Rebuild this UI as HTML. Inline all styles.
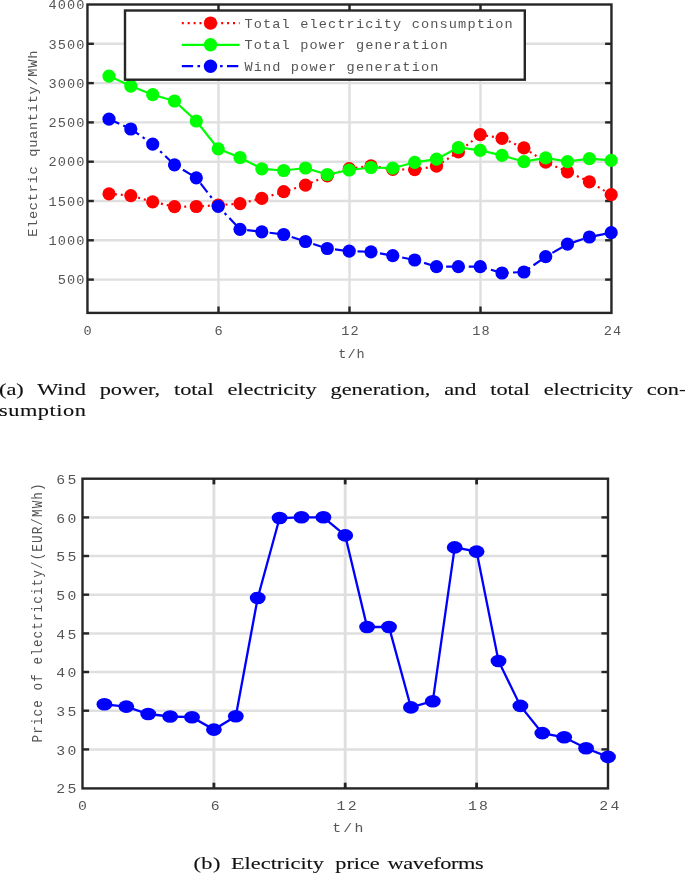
<!DOCTYPE html>
<html lang="en"><head><meta charset="utf-8"><title>Figure</title>
<style>
html,body{margin:0;padding:0;background:#fff}
body{width:685px;height:874px;position:relative;overflow:hidden}
.cap{position:absolute;font-family:"Liberation Serif",serif;font-size:17.2px;line-height:21.5px;color:#111;-webkit-text-stroke:0.12px #111;white-space:nowrap;transform-origin:0 0;transform:scaleX(1.3)}
.capa{left:-1.3px;top:378.7px;width:528.8px}
.capa .l2{letter-spacing:0.4px}
.capa .j{display:block;text-align:justify;text-align-last:justify;white-space:normal}
.capb{left:193px;top:853.2px}
.capb span{position:absolute;top:0}
</style></head><body>
<svg width="685" height="874" viewBox="0 0 685 874" style="position:absolute;left:0;top:0">
<g stroke="#dfdfdf" stroke-width="2.4" fill="none">
<line x1="87.45" x2="611.5" y1="43.8" y2="43.8"/>
<line x1="87.45" x2="611.5" y1="83.1" y2="83.1"/>
<line x1="87.45" x2="611.5" y1="122.4" y2="122.4"/>
<line x1="87.45" x2="611.5" y1="161.7" y2="161.7"/>
<line x1="87.45" x2="611.5" y1="201.0" y2="201.0"/>
<line x1="87.45" x2="611.5" y1="240.3" y2="240.3"/>
<line x1="87.45" x2="611.5" y1="279.6" y2="279.6"/>
<line x1="218.5" x2="218.5" y1="4.5" y2="312.9"/>
<line x1="349.5" x2="349.5" y1="4.5" y2="312.9"/>
<line x1="480.5" x2="480.5" y1="4.5" y2="312.9"/>
</g>
<g stroke="#262626" stroke-width="2.4" fill="none">
<rect x="87.45" y="4.5" width="524.0" height="308.4"/>
<line x1="87.45" x2="93.85000000000001" y1="43.8" y2="43.8"/><line x1="611.5" x2="605.1" y1="43.8" y2="43.8"/>
<line x1="87.45" x2="93.85000000000001" y1="83.1" y2="83.1"/><line x1="611.5" x2="605.1" y1="83.1" y2="83.1"/>
<line x1="87.45" x2="93.85000000000001" y1="122.4" y2="122.4"/><line x1="611.5" x2="605.1" y1="122.4" y2="122.4"/>
<line x1="87.45" x2="93.85000000000001" y1="161.7" y2="161.7"/><line x1="611.5" x2="605.1" y1="161.7" y2="161.7"/>
<line x1="87.45" x2="93.85000000000001" y1="201.0" y2="201.0"/><line x1="611.5" x2="605.1" y1="201.0" y2="201.0"/>
<line x1="87.45" x2="93.85000000000001" y1="240.3" y2="240.3"/><line x1="611.5" x2="605.1" y1="240.3" y2="240.3"/>
<line x1="87.45" x2="93.85000000000001" y1="279.6" y2="279.6"/><line x1="611.5" x2="605.1" y1="279.6" y2="279.6"/>
<line x1="218.5" x2="218.5" y1="4.5" y2="10.9"/><line x1="218.5" x2="218.5" y1="312.9" y2="306.5"/>
<line x1="349.5" x2="349.5" y1="4.5" y2="10.9"/><line x1="349.5" x2="349.5" y1="312.9" y2="306.5"/>
<line x1="480.5" x2="480.5" y1="4.5" y2="10.9"/><line x1="480.5" x2="480.5" y1="312.9" y2="306.5"/>
</g>
<polyline points="109.0,193.8 130.8,195.6 152.7,201.8 174.5,206.7 196.3,206.5 218.2,205.2 240.0,203.6 261.8,198.4 283.7,191.7 305.5,185.1 327.3,175.8 349.2,168.7 371.0,165.8 392.8,169.3 414.7,169.7 436.5,166.2 458.4,151.9 480.2,134.7 502.0,138.3 523.9,147.9 545.7,162.2 567.5,171.8 589.4,181.8 611.2,194.7" fill="none" stroke="#ff0000" stroke-width="2.2" stroke-dasharray="2 3.9"/>
<circle cx="109.0" cy="193.8" r="6.6" fill="#ff0000"/>
<circle cx="130.8" cy="195.6" r="6.6" fill="#ff0000"/>
<circle cx="152.7" cy="201.8" r="6.6" fill="#ff0000"/>
<circle cx="174.5" cy="206.7" r="6.6" fill="#ff0000"/>
<circle cx="196.3" cy="206.5" r="6.6" fill="#ff0000"/>
<circle cx="218.2" cy="205.2" r="6.6" fill="#ff0000"/>
<circle cx="240.0" cy="203.6" r="6.6" fill="#ff0000"/>
<circle cx="261.8" cy="198.4" r="6.6" fill="#ff0000"/>
<circle cx="283.7" cy="191.7" r="6.6" fill="#ff0000"/>
<circle cx="305.5" cy="185.1" r="6.6" fill="#ff0000"/>
<circle cx="327.3" cy="175.8" r="6.6" fill="#ff0000"/>
<circle cx="349.2" cy="168.7" r="6.6" fill="#ff0000"/>
<circle cx="371.0" cy="165.8" r="6.6" fill="#ff0000"/>
<circle cx="392.8" cy="169.3" r="6.6" fill="#ff0000"/>
<circle cx="414.7" cy="169.7" r="6.6" fill="#ff0000"/>
<circle cx="436.5" cy="166.2" r="6.6" fill="#ff0000"/>
<circle cx="458.4" cy="151.9" r="6.6" fill="#ff0000"/>
<circle cx="480.2" cy="134.7" r="6.6" fill="#ff0000"/>
<circle cx="502.0" cy="138.3" r="6.6" fill="#ff0000"/>
<circle cx="523.9" cy="147.9" r="6.6" fill="#ff0000"/>
<circle cx="545.7" cy="162.2" r="6.6" fill="#ff0000"/>
<circle cx="567.5" cy="171.8" r="6.6" fill="#ff0000"/>
<circle cx="589.4" cy="181.8" r="6.6" fill="#ff0000"/>
<circle cx="611.2" cy="194.7" r="6.6" fill="#ff0000"/>
<polyline points="109.0,76.1 130.8,86.1 152.7,94.7 174.5,101.0 196.3,121.0 218.2,148.8 240.0,157.5 261.8,168.8 283.7,170.5 305.5,168.0 327.3,174.5 349.2,170.0 371.0,167.5 392.8,168.2 414.7,162.3 436.5,159.2 458.4,147.5 480.2,150.4 502.0,155.4 523.9,161.7 545.7,157.9 567.5,161.7 589.4,158.7 611.2,160.4" fill="none" stroke="#00ff00" stroke-width="2.2"/>
<circle cx="109.0" cy="76.1" r="6.6" fill="#00ff00"/>
<circle cx="130.8" cy="86.1" r="6.6" fill="#00ff00"/>
<circle cx="152.7" cy="94.7" r="6.6" fill="#00ff00"/>
<circle cx="174.5" cy="101.0" r="6.6" fill="#00ff00"/>
<circle cx="196.3" cy="121.0" r="6.6" fill="#00ff00"/>
<circle cx="218.2" cy="148.8" r="6.6" fill="#00ff00"/>
<circle cx="240.0" cy="157.5" r="6.6" fill="#00ff00"/>
<circle cx="261.8" cy="168.8" r="6.6" fill="#00ff00"/>
<circle cx="283.7" cy="170.5" r="6.6" fill="#00ff00"/>
<circle cx="305.5" cy="168.0" r="6.6" fill="#00ff00"/>
<circle cx="327.3" cy="174.5" r="6.6" fill="#00ff00"/>
<circle cx="349.2" cy="170.0" r="6.6" fill="#00ff00"/>
<circle cx="371.0" cy="167.5" r="6.6" fill="#00ff00"/>
<circle cx="392.8" cy="168.2" r="6.6" fill="#00ff00"/>
<circle cx="414.7" cy="162.3" r="6.6" fill="#00ff00"/>
<circle cx="436.5" cy="159.2" r="6.6" fill="#00ff00"/>
<circle cx="458.4" cy="147.5" r="6.6" fill="#00ff00"/>
<circle cx="480.2" cy="150.4" r="6.6" fill="#00ff00"/>
<circle cx="502.0" cy="155.4" r="6.6" fill="#00ff00"/>
<circle cx="523.9" cy="161.7" r="6.6" fill="#00ff00"/>
<circle cx="545.7" cy="157.9" r="6.6" fill="#00ff00"/>
<circle cx="567.5" cy="161.7" r="6.6" fill="#00ff00"/>
<circle cx="589.4" cy="158.7" r="6.6" fill="#00ff00"/>
<circle cx="611.2" cy="160.4" r="6.6" fill="#00ff00"/>
<polyline points="109.0,119.1 130.8,129.0 152.7,144.1 174.5,164.8 196.3,177.8 218.2,206.3 240.0,229.3 261.8,231.8 283.7,234.5 305.5,241.5 327.3,248.5 349.2,251.2 371.0,251.8 392.8,255.7 414.7,260.0 436.5,266.7 458.4,266.7 480.2,266.7 502.0,273.0 523.9,272.0 545.7,256.7 567.5,244.2 589.4,237.0 611.2,232.7" fill="none" stroke="#0000ff" stroke-width="2.2" stroke-dasharray="11.3 4.35 2.6 4.35"/>
<circle cx="109.0" cy="119.1" r="6.6" fill="#0000ff"/>
<circle cx="130.8" cy="129.0" r="6.6" fill="#0000ff"/>
<circle cx="152.7" cy="144.1" r="6.6" fill="#0000ff"/>
<circle cx="174.5" cy="164.8" r="6.6" fill="#0000ff"/>
<circle cx="196.3" cy="177.8" r="6.6" fill="#0000ff"/>
<circle cx="218.2" cy="206.3" r="6.6" fill="#0000ff"/>
<circle cx="240.0" cy="229.3" r="6.6" fill="#0000ff"/>
<circle cx="261.8" cy="231.8" r="6.6" fill="#0000ff"/>
<circle cx="283.7" cy="234.5" r="6.6" fill="#0000ff"/>
<circle cx="305.5" cy="241.5" r="6.6" fill="#0000ff"/>
<circle cx="327.3" cy="248.5" r="6.6" fill="#0000ff"/>
<circle cx="349.2" cy="251.2" r="6.6" fill="#0000ff"/>
<circle cx="371.0" cy="251.8" r="6.6" fill="#0000ff"/>
<circle cx="392.8" cy="255.7" r="6.6" fill="#0000ff"/>
<circle cx="414.7" cy="260.0" r="6.6" fill="#0000ff"/>
<circle cx="436.5" cy="266.7" r="6.6" fill="#0000ff"/>
<circle cx="458.4" cy="266.7" r="6.6" fill="#0000ff"/>
<circle cx="480.2" cy="266.7" r="6.6" fill="#0000ff"/>
<circle cx="502.0" cy="273.0" r="6.6" fill="#0000ff"/>
<circle cx="523.9" cy="272.0" r="6.6" fill="#0000ff"/>
<circle cx="545.7" cy="256.7" r="6.6" fill="#0000ff"/>
<circle cx="567.5" cy="244.2" r="6.6" fill="#0000ff"/>
<circle cx="589.4" cy="237.0" r="6.6" fill="#0000ff"/>
<circle cx="611.2" cy="232.7" r="6.6" fill="#0000ff"/>
<rect x="125" y="10.5" width="399.8" height="69.2" fill="#fff" stroke="#262626" stroke-width="2.4"/>
<line x1="181.8" x2="210.5" y1="23.1" y2="23.1" stroke="#ff0000" stroke-width="2.2" stroke-dasharray="2 3.9"/>
<line x1="210.5" x2="239.6" y1="23.1" y2="23.1" stroke="#ff0000" stroke-width="2.2" stroke-dasharray="2 3.9" stroke-dashoffset="1.1"/>
<circle cx="210.5" cy="23.1" r="6.7" fill="#ff0000"/>
<text x="244.4" y="27.7" font-family="Liberation Mono, monospace" font-size="13.6" letter-spacing="1.135" fill="#555555">Total electricity consumption</text>
<line x1="181.8" x2="239.6" y1="44.8" y2="44.8" stroke="#00ff00" stroke-width="2.2"/>
<circle cx="210.5" cy="44.8" r="6.7" fill="#00ff00"/>
<text x="244.4" y="49.4" font-family="Liberation Mono, monospace" font-size="13.6" letter-spacing="1.135" fill="#555555">Total power generation</text>
<line x1="181.8" x2="239.6" y1="66.2" y2="66.2" stroke="#0000ff" stroke-width="2.2" stroke-dasharray="11.3 4.35 2.6 4.35"/>
<circle cx="210.5" cy="66.2" r="6.7" fill="#0000ff"/>
<text x="244.4" y="70.8" font-family="Liberation Mono, monospace" font-size="13.6" letter-spacing="1.135" fill="#555555">Wind power generation</text>
<text x="85.45" y="9.2" text-anchor="end" font-family="Liberation Mono, monospace" font-size="13.6" letter-spacing="1.05" fill="#555555">4000</text>
<text x="85.45" y="48.5" text-anchor="end" font-family="Liberation Mono, monospace" font-size="13.6" letter-spacing="1.05" fill="#555555">3500</text>
<text x="85.45" y="87.8" text-anchor="end" font-family="Liberation Mono, monospace" font-size="13.6" letter-spacing="1.05" fill="#555555">3000</text>
<text x="85.45" y="127.1" text-anchor="end" font-family="Liberation Mono, monospace" font-size="13.6" letter-spacing="1.05" fill="#555555">2500</text>
<text x="85.45" y="166.4" text-anchor="end" font-family="Liberation Mono, monospace" font-size="13.6" letter-spacing="1.05" fill="#555555">2000</text>
<text x="85.45" y="205.7" text-anchor="end" font-family="Liberation Mono, monospace" font-size="13.6" letter-spacing="1.05" fill="#555555">1500</text>
<text x="85.45" y="245.0" text-anchor="end" font-family="Liberation Mono, monospace" font-size="13.6" letter-spacing="1.05" fill="#555555">1000</text>
<text x="85.45" y="284.3" text-anchor="end" font-family="Liberation Mono, monospace" font-size="13.6" letter-spacing="1.05" fill="#555555">500</text>
<text x="88.0" y="335.2" text-anchor="middle" font-family="Liberation Mono, monospace" font-size="13.6" letter-spacing="1.05" fill="#555555">0</text>
<text x="219.0" y="335.2" text-anchor="middle" font-family="Liberation Mono, monospace" font-size="13.6" letter-spacing="1.05" fill="#555555">6</text>
<text x="350.5" y="335.2" text-anchor="middle" font-family="Liberation Mono, monospace" font-size="13.6" letter-spacing="1.05" fill="#555555">12</text>
<text x="481.5" y="335.2" text-anchor="middle" font-family="Liberation Mono, monospace" font-size="13.6" letter-spacing="1.05" fill="#555555">18</text>
<text x="613.0" y="335.2" text-anchor="middle" font-family="Liberation Mono, monospace" font-size="13.6" letter-spacing="1.05" fill="#555555">24</text>
<text x="352.0" y="357.6" text-anchor="middle" font-family="Liberation Mono, monospace" font-size="13.6" letter-spacing="1.05" fill="#555555">t/h</text>
<text transform="translate(36.9,143.4) rotate(-90)" text-anchor="middle" font-family="Liberation Mono, monospace" font-size="13.6" letter-spacing="0.74" fill="#555555">Electric quantity/MWh</text>
<g stroke="#dfdfdf" stroke-width="2.5" fill="none">
<line x1="82.5" x2="608.0" y1="517.4" y2="517.4"/>
<line x1="82.5" x2="608.0" y1="556.0" y2="556.0"/>
<line x1="82.5" x2="608.0" y1="594.7" y2="594.7"/>
<line x1="82.5" x2="608.0" y1="633.4" y2="633.4"/>
<line x1="82.5" x2="608.0" y1="672.0" y2="672.0"/>
<line x1="82.5" x2="608.0" y1="710.7" y2="710.7"/>
<line x1="82.5" x2="608.0" y1="749.4" y2="749.4"/>
<line x1="213.9" x2="213.9" y1="478.7" y2="788.4" stroke-width="2.9"/>
<line x1="345.2" x2="345.2" y1="478.7" y2="788.4" stroke-width="2.9"/>
<line x1="476.6" x2="476.6" y1="478.7" y2="788.4" stroke-width="2.9"/>
</g>
<g stroke="#262626" stroke-width="2.4" fill="none">
<rect x="82.5" y="478.7" width="525.5" height="309.7"/>
<line x1="82.5" x2="89.1" y1="517.4" y2="517.4"/><line x1="608.0" x2="601.4" y1="517.4" y2="517.4"/>
<line x1="82.5" x2="89.1" y1="556.0" y2="556.0"/><line x1="608.0" x2="601.4" y1="556.0" y2="556.0"/>
<line x1="82.5" x2="89.1" y1="594.7" y2="594.7"/><line x1="608.0" x2="601.4" y1="594.7" y2="594.7"/>
<line x1="82.5" x2="89.1" y1="633.4" y2="633.4"/><line x1="608.0" x2="601.4" y1="633.4" y2="633.4"/>
<line x1="82.5" x2="89.1" y1="672.0" y2="672.0"/><line x1="608.0" x2="601.4" y1="672.0" y2="672.0"/>
<line x1="82.5" x2="89.1" y1="710.7" y2="710.7"/><line x1="608.0" x2="601.4" y1="710.7" y2="710.7"/>
<line x1="82.5" x2="89.1" y1="749.4" y2="749.4"/><line x1="608.0" x2="601.4" y1="749.4" y2="749.4"/>
<line x1="213.9" x2="213.9" y1="478.7" y2="484.4" stroke-width="2.8"/><line x1="213.9" x2="213.9" y1="788.4" y2="782.6999999999999" stroke-width="2.8"/>
<line x1="345.2" x2="345.2" y1="478.7" y2="484.4" stroke-width="2.8"/><line x1="345.2" x2="345.2" y1="788.4" y2="782.6999999999999" stroke-width="2.8"/>
<line x1="476.6" x2="476.6" y1="478.7" y2="484.4" stroke-width="2.8"/><line x1="476.6" x2="476.6" y1="788.4" y2="782.6999999999999" stroke-width="2.8"/>
</g>
<polyline points="104.4,704.3 126.3,706.6 148.2,714.0 170.1,716.5 192.0,717.2 213.9,729.6 235.8,716.2 257.7,598.0 279.6,518.0 301.5,517.3 323.4,517.3 345.2,535.4 367.1,627.0 389.0,627.0 410.9,707.4 432.8,701.2 454.7,547.4 476.6,551.6 498.5,661.0 520.4,705.9 542.3,733.1 564.2,737.3 586.1,748.3 608.0,756.9" fill="none" stroke="#0000ff" stroke-width="2.3"/>
<ellipse cx="104.4" cy="704.3" rx="7.9" ry="6.3" fill="#0000ff"/>
<ellipse cx="126.3" cy="706.6" rx="7.9" ry="6.3" fill="#0000ff"/>
<ellipse cx="148.2" cy="714.0" rx="7.9" ry="6.3" fill="#0000ff"/>
<ellipse cx="170.1" cy="716.5" rx="7.9" ry="6.3" fill="#0000ff"/>
<ellipse cx="192.0" cy="717.2" rx="7.9" ry="6.3" fill="#0000ff"/>
<ellipse cx="213.9" cy="729.6" rx="7.9" ry="6.3" fill="#0000ff"/>
<ellipse cx="235.8" cy="716.2" rx="7.9" ry="6.3" fill="#0000ff"/>
<ellipse cx="257.7" cy="598.0" rx="7.9" ry="6.3" fill="#0000ff"/>
<ellipse cx="279.6" cy="518.0" rx="7.9" ry="6.3" fill="#0000ff"/>
<ellipse cx="301.5" cy="517.3" rx="7.9" ry="6.3" fill="#0000ff"/>
<ellipse cx="323.4" cy="517.3" rx="7.9" ry="6.3" fill="#0000ff"/>
<ellipse cx="345.2" cy="535.4" rx="7.9" ry="6.3" fill="#0000ff"/>
<ellipse cx="367.1" cy="627.0" rx="7.9" ry="6.3" fill="#0000ff"/>
<ellipse cx="389.0" cy="627.0" rx="7.9" ry="6.3" fill="#0000ff"/>
<ellipse cx="410.9" cy="707.4" rx="7.9" ry="6.3" fill="#0000ff"/>
<ellipse cx="432.8" cy="701.2" rx="7.9" ry="6.3" fill="#0000ff"/>
<ellipse cx="454.7" cy="547.4" rx="7.9" ry="6.3" fill="#0000ff"/>
<ellipse cx="476.6" cy="551.6" rx="7.9" ry="6.3" fill="#0000ff"/>
<ellipse cx="498.5" cy="661.0" rx="7.9" ry="6.3" fill="#0000ff"/>
<ellipse cx="520.4" cy="705.9" rx="7.9" ry="6.3" fill="#0000ff"/>
<ellipse cx="542.3" cy="733.1" rx="7.9" ry="6.3" fill="#0000ff"/>
<ellipse cx="564.2" cy="737.3" rx="7.9" ry="6.3" fill="#0000ff"/>
<ellipse cx="586.1" cy="748.3" rx="7.9" ry="6.3" fill="#0000ff"/>
<ellipse cx="608.0" cy="756.9" rx="7.9" ry="6.3" fill="#0000ff"/>
<text transform="translate(78.7,483.8) scale(1.09,0.93)" text-anchor="end" font-family="Liberation Mono, monospace" font-size="13.6" letter-spacing="2.1" fill="#555555">65</text>
<text transform="translate(78.7,522.5) scale(1.09,0.93)" text-anchor="end" font-family="Liberation Mono, monospace" font-size="13.6" letter-spacing="2.1" fill="#555555">60</text>
<text transform="translate(78.7,561.1) scale(1.09,0.93)" text-anchor="end" font-family="Liberation Mono, monospace" font-size="13.6" letter-spacing="2.1" fill="#555555">55</text>
<text transform="translate(78.7,599.8) scale(1.09,0.93)" text-anchor="end" font-family="Liberation Mono, monospace" font-size="13.6" letter-spacing="2.1" fill="#555555">50</text>
<text transform="translate(78.7,638.5) scale(1.09,0.93)" text-anchor="end" font-family="Liberation Mono, monospace" font-size="13.6" letter-spacing="2.1" fill="#555555">45</text>
<text transform="translate(78.7,677.1) scale(1.09,0.93)" text-anchor="end" font-family="Liberation Mono, monospace" font-size="13.6" letter-spacing="2.1" fill="#555555">40</text>
<text transform="translate(78.7,715.8) scale(1.09,0.93)" text-anchor="end" font-family="Liberation Mono, monospace" font-size="13.6" letter-spacing="2.1" fill="#555555">35</text>
<text transform="translate(78.7,754.5) scale(1.09,0.93)" text-anchor="end" font-family="Liberation Mono, monospace" font-size="13.6" letter-spacing="2.1" fill="#555555">30</text>
<text transform="translate(78.7,793.2) scale(1.09,0.93)" text-anchor="end" font-family="Liberation Mono, monospace" font-size="13.6" letter-spacing="2.1" fill="#555555">25</text>
<text transform="translate(83.7,809.6) scale(1.09,0.93)" text-anchor="middle" font-family="Liberation Mono, monospace" font-size="13.6" letter-spacing="2.1" fill="#555555">0</text>
<text transform="translate(216.3,809.6) scale(1.09,0.93)" text-anchor="middle" font-family="Liberation Mono, monospace" font-size="13.6" letter-spacing="2.1" fill="#555555">6</text>
<text transform="translate(347.7,809.6) scale(1.09,0.93)" text-anchor="middle" font-family="Liberation Mono, monospace" font-size="13.6" letter-spacing="2.1" fill="#555555">12</text>
<text transform="translate(479.1,809.6) scale(1.09,0.93)" text-anchor="middle" font-family="Liberation Mono, monospace" font-size="13.6" letter-spacing="2.1" fill="#555555">18</text>
<text transform="translate(610.4,809.6) scale(1.09,0.93)" text-anchor="middle" font-family="Liberation Mono, monospace" font-size="13.6" letter-spacing="2.1" fill="#555555">24</text>
<text transform="translate(348.9,831.8) scale(1.09,0.93)" text-anchor="middle" font-family="Liberation Mono, monospace" font-size="13.6" letter-spacing="2.1" fill="#555555">t/h</text>
<text transform="translate(42.0,612.4) scale(1.09,0.93) rotate(-90)" text-anchor="middle" font-family="Liberation Mono, monospace" font-size="13.6" letter-spacing="1.17" fill="#555555">Price of electricity/(EUR/MWh)</text>
</svg>
<div class="cap capa"><span class="j">(a) Wind power, total electricity generation, and total electricity con-</span><span class="l2">sumption</span></div>
<div class="cap capb"><span style="left:0.3px;letter-spacing:0.35px">(b)</span> <span style="left:29.2px;letter-spacing:0px">Electricity</span> <span style="left:109.5px;letter-spacing:-0.05px">price</span> <span style="left:149.7px;letter-spacing:-0.3px">waveforms</span></div>
</body></html>
